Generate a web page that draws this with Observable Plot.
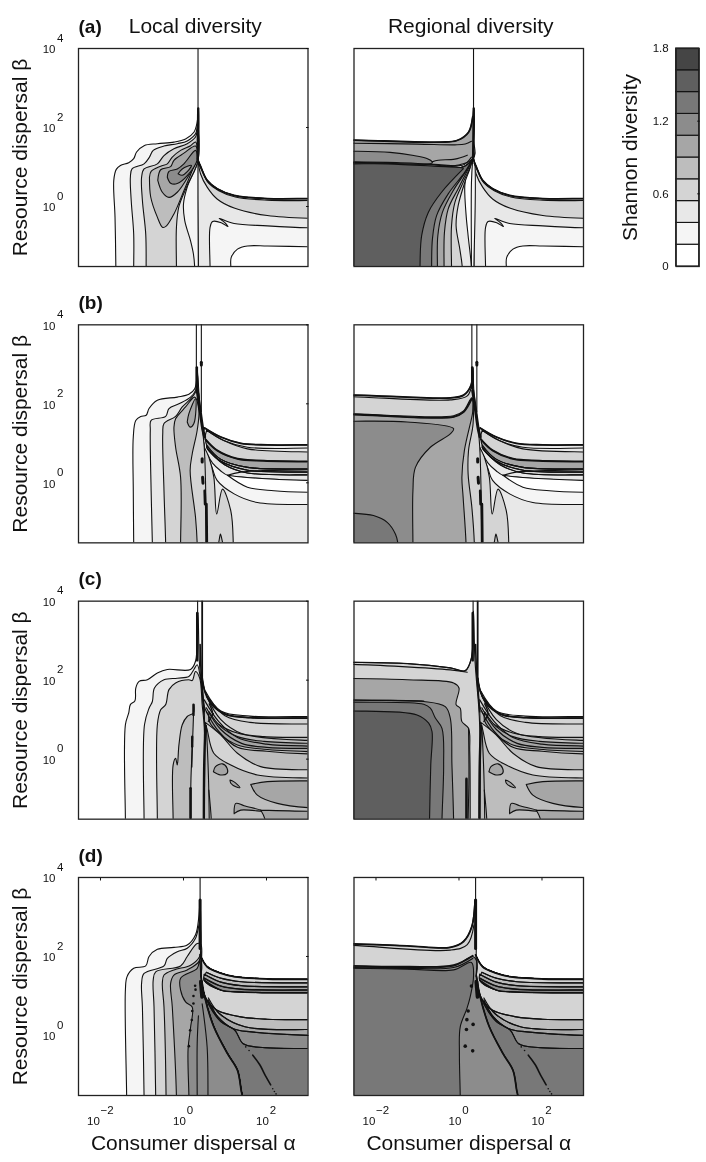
<!DOCTYPE html>
<html><head><meta charset="utf-8">
<script src="https://cdn.jsdelivr.net/npm/d3@7"></script>
<script src="https://cdn.jsdelivr.net/npm/@observablehq/plot@0.6"></script>
<style>html,body{margin:0;background:#fff}#page{position:relative;width:706px;height:1162px;overflow:hidden}
#page svg{position:absolute;background:transparent;will-change:transform}</style></head>
<body><div id="page"></div>
<script>
// All contour vertices are [log10 alpha, log10 beta]. Level = band index (0..9).
// Vertices beyond the frame (3.6, -3.1, -2.1) only close a filled band outside the clipped area.
const grays=["#ffffff","#f5f5f5","#e8e8e8","#d4d4d4","#bdbdbd","#a6a6a6","#8c8c8c","#787878","#5f5f5f","#454545"];
const bandEdges=[0,.18,.36,.54,.72,.9,1.08,1.26,1.44,1.62,1.8];
const xTicks=[.01,1,100], yTicks=[1,100,10000], barTicks=[0,.6,1.2,1.8];
const cols=["Local","Regional"], rows=["a","b","c","d"];

// ---- panel (a)
const aArm=[[.35,1.17],[.41,1.02],[.57,.66],[.81,.45],[1.22,.28],[2.02,.2],[3.6,.2]];
const aRight=[
 [2,[...aArm,[3.6,-2.1],[.36,-2.1],[.35,.2],[.35,1.17]]],
 [3,[...aArm,[3.6,-.3],[2.02,-.23],[1.22,-.04],[.81,.19],[.57,.49],[.41,.83],[.35,1.17]]],
 [1,[[.64,-2.1],[.64,-.53],[.7,-.38],[.91,-.41],[1.07,-.51],[.99,-.4],[.86,-.3],[1.22,-.43],[2.02,-.49],[3.6,-.54],[3.6,-2.1],[.64,-2.1]]],
 [0,[[1.14,-2.1],[1.15,-1.29],[1.3,-1.08],[1.54,-1],[2.02,-1],[3.6,-1.02],[3.6,-2.1],[1.14,-2.1]]]
];
const aLines=[
 [1.1,[[.35,4.1],[.35,2.4]]],
 [2.4,[[.355,2.48],[.35,2],[.34,1.2]]],
 [1.8,aArm],
 [1.1,[[.36,1.1],[.45,.9],[.6,.6],[.85,.4],[1.25,.24],[2.02,.16],[3.6,.15]]]
];
const aLocal=[
 [1,[[-1.63,-2.1],[-1.65,-.27],[-1.68,.66],[-1.62,.94],[-1.52,1.04],[-1.32,1.11],[-1.2,1.21],[-1.13,1.38],[-.95,1.54],[-.63,1.59],[-.23,1.63],[.05,1.71],[.25,1.88],[.33,2.14],[.36,2.48],[.37,2.14],[.36,1.17],[.36,-2.1],[-1.63,-2.1]]],
 ...aRight,
 [2,[[-1.2,-2.1],[-1.2,-.7],[-1.26,.15],[-1.28,.74],[-1.24,.95],[-.95,1.08],[-.82,1.25],[-.73,1.42],[-.47,1.53],[-.15,1.59],[.09,1.66],[.29,1.84],[.34,2.1],[.35,1.17],[.09,.49],[0,.07],[.03,-.36],[.17,-.87],[.24,-1.21],[.27,-2.1],[-1.2,-2.1]]],
 [3,[[-.9,-2.1],[-.91,-.7],[-.99,.15],[-1.01,.74],[-.95,.95],[-.63,1.08],[-.47,1.29],[-.23,1.46],[.09,1.59],[.29,1.76],[.34,1.97],[.35,1.17],[.09,.53],[-.11,0],[-.17,-.53],[-.17,-2.1],[-.9,-2.1]]],
 [4,[[-.82,.74],[-.78,.89],[-.55,1.02],[-.39,1.08],[-.27,1.25],[-.07,1.42],[.17,1.54],[.29,1.63],[.33,1.25],[.21,.91],[.01,.4],[-.23,-.19],[-.41,-.49],[-.5,-.53],[-.63,-.27],[-.79,.24],[-.82,.74]]],
 [5,[[-.62,.66],[-.55,.93],[-.31,1.01],[-.23,1.17],[.01,1.35],[.29,1.53],[.33,1.21],[.13,.79],[-.15,.36],[-.35,.23],[-.51,.36],[-.62,.66]]],
 [6,[[-.39,.74],[-.35,.89],[-.15,.95],[.01,1.08],[.29,1.42],[.33,1.19],[.09,.78],[-.15,.58],[-.31,.59],[-.39,.74]]],
 [5,[[-.13,.83],[-.03,.95],[.19,1.04],[.09,.88],[-.03,.79],[-.13,.83]]]
];
const aTop=[[-.6,1.05],[.1,1.0],[.33,1.2]];
const aFanClose=[[-3.1,-2.1],[-3.1,1.1],...aTop];
const aRegional=[
 [5,[[-3.1,1.68],[-.45,1.63],[-.05,1.67],[.23,1.88],[.33,2.27],[.355,2.48],[.37,2.27],[.36,1.67],[.33,1.2],[-3.1,.9],[-3.1,1.68]]],
 ...aRight,
 [2,[[.33,1.2],[.2,.9],[.14,.53],[.17,-.2],[.22,-.74],[.3,-2.1],...aFanClose]],
 [1,[[.33,1.2],[.3,.6],[.3,-2.1],[.36,-2.1],[.36,1.2],[.33,1.2]]],
 [3,[[.33,1.2],[.26,.95],[.14,.61],[-.02,.02],[-.07,-.49],[.02,-1.08],[.08,-2.1],...aFanClose]],
 [4,[[.33,1.2],[.25,.95],[.1,.61],[-.1,.1],[-.18,-.49],[-.18,-2.1],...aFanClose]],
 [5,[[.33,1.2],[.22,.95],[-.02,.45],[-.26,-.06],[-.35,-.65],[-.36,-2.1],...aFanClose]],
 [6,[[.33,1.2],[.18,.91],[-.14,.4],[-.4,-.15],[-.51,-.74],[-.52,-2.1],...aFanClose]],
 [7,[[.33,1.2],[.14,.87],[-.26,.32],[-.54,-.23],[-.64,-.82],[-.66,-2.1],...aFanClose]],
 [6,[[-3.1,1.4],[-1.66,1.37],[-1.09,1.29],[-.76,1.21],[-.65,1.14],[-.65,1.1],[-3.1,1.12],[-3.1,1.4]]],
 [8,[[.1,.95],[-.42,.36],[-.74,-.15],[-.9,-.74],[-.94,-2.1],[-3.1,-2.1],[-3.1,1.08],[-1.73,1.08],[-.61,1.02],[.1,.97],[.1,.95]]]
];
const aRegLines=[...aLines,
 [1.8,[[-3.1,1.68],[-.45,1.63],[-.05,1.67],[.23,1.88],[.33,2.27]]],
 [1.1,[[-3.1,1.6],[-1,1.58],[-.1,1.56],[.15,1.58],[.3,1.65]]],
 [1.1,[[-3.1,1.13],[-1.5,1.11],[-.6,1.07],[.1,1.05],[.3,1.25]]],
 [1.1,[[-.65,1.13],[-.5,1.17],[-.1,1.2],[.2,1.3]]]
];

// ---- panel (b)
const bArm=[[.51,1.39],[.9,1.16],[1.38,1],[2.02,.96],[3.6,.96]];
const bRight=[
 [2,[...bArm,[3.6,-2.1],[.4,-2.1],[.4,1],[.51,1.39]]],
 [3,[[.56,1.33],[.97,1.07],[1.54,.86],[3.6,.78],[3.6,.54],[1.94,.56],[1.3,.6],[.81,.82],[.53,1.1],[.56,1.33]]],
 [5,[[.53,1.1],[.81,.82],[1.3,.61],[1.94,.56],[3.6,.54],[3.6,.35],[1.54,.39],[.89,.6],[.56,.95],[.53,1.1]]],
 [4,[[.56,.95],[.89,.6],[1.54,.39],[3.6,.35],[3.6,.27],[1.54,.32],[.89,.55],[.56,.9],[.56,.95]]],
 [3,[[.56,.9],[.89,.55],[1.54,.32],[3.6,.27],[3.6,.2],[1.54,.25],[1,.45],[.58,.85],[.56,.9]]],
 [1,[[.58,.72],[.7,.35],[.81,.06],[1.22,-.28],[1.78,-.5],[3.6,-.55],[3.6,.05],[1.46,.14],[1.06,.19],[.9,.3],[.7,.5],[.58,.72]]],
 [0,[[1.06,.19],[1.46,.14],[3.6,.06],[3.6,-.24],[2.18,-.2],[1.54,-.11],[1.06,.19]]],
 [3,[[.5,.9],[.61,.65],[.73,.15],[.8,-.79],[.94,-.16],[1.14,-.71],[1.2,-2.1],[.4,-2.1],[.5,.9]]],
 [4,[[.83,-2.1],[.85,-1.5],[.89,-1.3],[.94,-1.5],[.96,-2.1],[.83,-2.1]]]
];
const bLines=[
 [1.1,[[.31,4.1],[.31,2.4]]],[1.1,[[.43,4.1],[.43,1.8]]],
 [2.6,[[.32,2.92],[.32,2.4]]],
 [1.1,[[.33,2.92],[.34,2.5],[.32,2.3]]],
 [3,[[.33,2.34],[.4,1.83],[.47,1.33],[.51,1.16]]],
 [3,[[.45,.61],[.45,.53]]],[3,[[.46,.14],[.47,-.01]]],[2.6,[[.51,-.2],[.52,-.54]]],[2.8,[[.55,-.54],[.56,-2.1]]],
 [3,[[.43,3.05],[.43,2.98]]],
 [1.8,bArm],
 [1.1,[[.56,1.33],[.97,1.07],[1.54,.9],[3.6,.88]]],
 [2,[[.53,1.1],[.81,.82],[1.3,.61],[1.94,.56],[3.6,.54]]],
 [1.1,[[.56,.95],[.89,.6],[1.54,.39],[3.6,.35]]],
 [1.1,[[.58,.85],[1,.45],[1.54,.25],[3.6,.2]]],
 [1.1,[[.56,.9],[.89,.55],[1.54,.32],[3.6,.27]]],
 [1.1,[[1.06,.19],[1.38,.27],[3.6,.33]]]
];
const bLocal=[
 ...bRight,
 [1,[[-1.2,-2.1],[-1.21,-.2],[-1.21,1.16],[-1.15,1.58],[-1.03,1.68],[-.9,1.71],[-.83,1.88],[-.63,2.09],[-.15,2.17],[.13,2.24],[.27,2.38],[.33,2.77],[.33,2.92],[.37,2.3],[.42,1.5],[.45,1.2],[.5,.9],[.45,-2.1],[-1.2,-2.1]]],
 [2,[[-.75,-2.1],[-.78,-.2],[-.8,1.33],[-.78,1.58],[-.43,1.68],[-.35,1.88],[-.11,2],[.17,2.17],[.29,2.34],[.33,2.8],[.36,2.3],[.45,1.2],[.5,.9],[.45,-2.1],[-.75,-2.1]]],
 [3,[[-.43,-2.1],[-.47,-.2],[-.5,1.24],[-.47,1.5],[-.19,1.68],[-.03,1.92],[.21,2.17],[.31,2.34],[.33,2.6],[.4,1.8],[.5,.9],[.55,-2.1],[-.43,-2.1]]],
 [4,[[-.07,-2.1],[-.07,.14],[-.19,.9],[-.23,1.41],[-.19,1.62],[.05,1.92],[.27,2.17],[.37,1.83],[.33,1.33],[.21,.73],[.16,.31],[.29,-.88],[.33,-2.1],[-.07,-2.1]]],
 [5,[[.09,1.54],[.13,1.75],[.29,2.13],[.25,1.5],[.16,1.41],[.09,1.54]]]
];
const bRegional=[
 ...bRight,
 [3,[[-3.1,2.22],[-1.25,2.17],[-.21,2.15],[.11,2.22],[.29,2.47],[.33,2.89],[.36,2.3],[.45,1.5],[.5,.9],[.55,-2.1],[-3.1,-2.1],[-3.1,2.22]]],
 [4,[[-3.1,1.75],[-.13,1.7],[.11,1.82],[.31,2.15],[.34,1.5],[.23,.82],[.22,.22],[.31,-.62],[.37,-2.1],[-3.1,-2.1],[-3.1,1.75]]],
 [5,[[-3.1,1.73],[-.13,1.67],[.11,1.79],[.31,2.13],[.33,1.8],[.31,1.67],[.13,.82],[.07,.14],[.1,-.37],[.17,-2.1],[-3.1,-2.1],[-3.1,1.73]]],
 [6,[[-3.1,1.56],[-1.25,1.54],[-.13,1.37],[-.21,1.24],[-.69,.9],[-1.05,.39],[-1.11,-.2],[-1.11,-2.1],[-3.1,-2.1],[-3.1,1.56]]],
 [7,[[-3.1,-.77],[-2.06,-.83],[-1.73,-1],[-1.53,-1.3],[-1.47,-2.1],[-3.1,-2.1],[-3.1,-.77]]]
];
const bRegLines=[...bLines,
 [1.8,[[-3.1,2.22],[-1.25,2.17],[-.21,2.15],[.11,2.22],[.29,2.47],[.33,2.89]]],
 [1.1,[[-3.1,2.18],[-.21,2.1],[.2,2.2],[.31,2.5]]],
 [1.8,[[-3.1,1.73],[-.13,1.67],[.11,1.79],[.31,2.13]]]
];

// ---- panel (c)
const cArm=[[.45,2.05],[.53,1.67],[.73,1.33],[1.05,1.12],[1.62,1.05],[3.6,1.04]];
const cRight=[
 [4,[...cArm,[3.6,-2.1],[.5,-2.1],[.5,1.2],[.45,2.05]]],
 [3,[...cArm,[3.6,.55],[1.94,.57],[1.3,.66],[.81,.91],[.53,1.25],[.45,2.05]]],
 [5,[[.62,1.2],[.89,.83],[1.3,.57],[1.94,.45],[3.6,.4],[3.6,.19],[1.94,.25],[1.3,.36],[.89,.62],[.62,.96],[.62,1.2]]],
 [3,[[.5,.95],[.89,.62],[1.3,.15],[1.86,-.19],[3.6,-.27],[3.6,-.48],[1.78,-.4],[1.14,-.15],[.73,.15],[.56,.79],[.5,.95]]],
 [5,[[.72,-.32],[.77,-.19],[.94,-.12],[1.05,-.23],[1.05,-.36],[.89,-.4],[.72,-.32]]],
 [5,[[1.12,-.53],[1.21,-.57],[1.36,-.72],[1.26,-.7],[1.14,-.61],[1.12,-.53]]],
 [5,[[1.62,-.64],[2.02,-.57],[3.6,-.55],[3.6,-1.23],[2.26,-1.12],[1.78,-.91],[1.62,-.64]]],
 [5,[[1.22,-1.38],[1.26,-1.12],[1.46,-1.18],[1.94,-1.32],[1.38,-1.29],[1.22,-1.38]]],
 [5,[[1.86,-1.29],[3.6,-1.32],[3.6,-2.1],[1.97,-2.1],[1.86,-1.29]]]
];
const cLines=[
 [1.1,[[.34,4.1],[.34,3.5]]],[1.8,[[.45,4.1],[.45,2]]],
 [2.4,[[.33,3.7],[.33,2.5]]],
 [1.6,[[.4,2.9],[.42,2.3],[.47,1.6],[.5,1.2]]],
 [1.8,cArm],
 [1.1,[[.53,1.72],[.9,1.22],[1.6,1.09],[3.6,1.08]]],
 [1.1,[[.6,1.55],[1,1.1],[1.6,.93],[3.6,.89]]],
 [1.2,[[.55,1.6],[.9,1],[1.4,.65],[3.6,.47]]],
 [1.2,[[.5,1.5],[.85,.95],[1.3,.55],[2,.38],[3.6,.33]]],
 [1.2,[[.55,1.3],[.9,.75],[1.4,.4],[2,.3],[3.6,.27]]],
 [1.2,[[.55,1.2],[.85,.7],[1.3,.3],[2,.2],[3.6,.13]]],
 [1.4,[[.62,1.4],[.7,1.15],[.6,.95],[.72,1.15]]],
 [2.4,[[.53,.85],[.5,-.1],[.49,-2.1]]],
 [1.1,[[.61,-.78],[.67,-2.1]]],
 [1.1,[[.55,.85],[.6,-.4],[.62,-2.1]]]
];
const cLocal=[
 ...cRight,
 [1,[[-1.4,-2.1],[-1.4,.87],[-1.32,1.17],[-1.28,1.38],[-1.17,1.48],[-1.15,1.8],[-1.07,1.97],[-.87,2.01],[-.63,2.18],[-.39,2.27],[.17,2.27],[.29,2.48],[.33,3.24],[.35,3.71],[.38,2.5],[.42,2],[.47,1.4],[.5,.8],[.5,-2.1],[-1.4,-2.1]]],
 [2,[[-.95,-2.1],[-.94,.87],[-.83,1.29],[-.75,1.46],[-.7,1.8],[-.47,2.01],[-.15,2.05],[.13,2.09],[.25,2.27],[.33,2.39],[.4,2.1],[.47,1.4],[.5,.8],[.5,-2.1],[-.95,-2.1]]],
 [3,[[-.63,-2.1],[-.63,.87],[-.55,1.25],[-.43,1.38],[-.35,1.76],[-.19,1.93],[.13,2.01],[.21,1.99],[.29,2.22],[.39,2.05],[.45,1.38],[.5,.8],[.5,-2.1],[-.63,-2.1]]],
 [4,[[-.25,-2.1],[-.25,-.15],[-.19,.02],[-.15,-.15],[-.11,.36],[-.03,.87],[.09,1.08],[.24,1.17],[.25,1.38],[.22,.5],[.18,-.5],[.17,-2.1],[-.25,-2.1]]]
];
const cLocLines=[...cLines,
 [2.4,[[.24,1.38],[.24,1.12]]],[2.4,[[.21,.57],[.21,.32]]],[1.3,[[.21,.32],[.2,-.2]]],[2.6,[[.17,-.74],[.17,-2.1]]]
];
const cRegional=[
 ...cRight,
 [3,[[-3.1,2.45],[-1.25,2.42],[-.21,2.31],[.15,2.24],[.3,2.56],[.35,3.75],[.38,2.6],[.42,2],[.47,1.4],[.5,.8],[.5,-2.1],[-3.1,-2.1],[-3.1,2.45]]],
 [5,[[-3.1,2.04],[-1.25,2.01],[-.13,1.93],[0,1.8],[-.07,1.38],[.03,1.29],[.07,.95],[.23,.78],[.26,.19],[.27,-2.1],[-3.1,-2.1],[-3.1,2.04]]],
 [6,[[-3.1,1.48],[-.85,1.46],[-.33,1.33],[-.21,1.04],[-.17,-.15],[-.13,-2.1],[-3.1,-2.1],[-3.1,1.48]]],
 [7,[[-3.1,1.44],[-.85,1.39],[-.69,1.29],[-.57,1.04],[-.41,.78],[-.37,-.15],[-.41,-2.1],[-3.1,-2.1],[-3.1,1.44]]],
 [8,[[-3.1,1.22],[-1.01,1.12],[-.73,.91],[-.65,.7],[-.68,-.15],[-.71,-2.1],[-3.1,-2.1],[-3.1,1.22]]]
];
const cRegLines=[...cLines,
 [1.3,[[-3.1,2.45],[-1.25,2.42],[-.21,2.31],[.15,2.24],[.3,2.56],[.33,3.2]]],
 [1.1,[[-3.1,2.4],[-.21,2.26],[.2,2.2]]],
 [1.3,[[-3.1,1.5],[-.85,1.47]]],
 [2.6,[[.18,-.5],[.18,-2.1]]],[1.1,[[.23,.78],[.24,-.5],[.22,-2.1]]]
];

// ---- panel (d)
const dArm=[[.4,2.04],[.57,1.74],[.89,1.58],[1.22,1.49],[2.02,1.43],[3.6,1.42]];
const dBound=[[.42,1.5],[.51,.98],[.73,.22],[1.06,-.46],[1.3,-.88],[1.39,-1.39],[1.42,-2.1]];
const dRight=[
 [7,[...dArm,[3.6,-2.1],[.42,-2.1],[.42,1.5],[.4,2.04]]],
 [6,[...dArm,[3.6,-.33],[1.96,-.31],[1.44,-.21],[1.24,.13],[.9,.35],[.6,.8],[.47,1.23],[.4,2.04]]],
 [5,[...dArm,[3.6,0],[1.64,.09],[1.2,.17],[.83,.47],[.6,.9],[.47,1.23],[.4,2.04]]],
 [4,[...dArm,[3.6,.15],[1.48,.22],[.87,.55],[.6,.95],[.47,1.23],[.4,2.04]]],
 [3,[...dArm,[3.6,.4],[2.02,.41],[1.38,.47],[.81,.64],[.57,.89],[.45,1.23],[.4,2.04]]],
 [4,[[.55,1.6],[.9,1.45],[1.4,1.36],[3.6,1.33],[3.6,1.08],[1.4,1.1],[.9,1.15],[.5,1.4],[.55,1.6]]],
 [5,[[.5,1.55],[.9,1.35],[1.4,1.26],[3.6,1.23],[3.6,1.08],[1.4,1.1],[.9,1.15],[.5,1.4],[.5,1.55]]],
 [6,[[.5,1.45],[.9,1.25],[1.4,1.17],[3.6,1.15],[3.6,1.08],[1.4,1.1],[.9,1.15],[.5,1.4],[.5,1.45]]]
];
const dLines=[
 [1.1,[[.4,4.1],[.4,3.3]]],
 [3,[[.4,3.43],[.4,2.2]]],
 [1.8,dArm],
 [1.2,[[.55,1.6],[.9,1.45],[1.4,1.36],[3.6,1.33]]],
 [1.2,[[.5,1.55],[.9,1.35],[1.4,1.26],[3.6,1.23]]],
 [1.4,[[.5,1.45],[.9,1.25],[1.4,1.17],[3.6,1.15]]],
 [1.4,[[.5,1.4],[.9,1.15],[1.4,1.1],[3.6,1.08]]],
 [1.2,[[.45,1.23],[.57,.89],[.81,.64],[1.38,.47],[2.02,.41],[3.6,.4]]],
 [1.2,[[.6,.95],[.87,.55],[1.48,.22],[3.6,.15]]],
 [1.2,[[.6,.9],[.83,.47],[1.2,.17],[1.64,.09],[3.6,0]]],
 [1.2,[[.6,.8],[.9,.35],[1.24,.13],[1.44,-.21],[1.96,-.31],[3.6,-.33]]],
 [1.8,dBound],
 [1.2,[[.43,1.9],[.44,1.7],[.41,1.5]]],
 [4,[[.42,1.36],[.45,.98]]],
 [1.6,[[1.67,-.5],[1.83,-.73],[1.99,-1.05],[2.1,-1.25]]]
];
const dDotAlpha=[1.5,1.58,2.15,2.19,2.23];
const dDotBeta=[-.29,-.38,-1.35,-1.42,-1.48];
const dLocalBlobs=[[.28,1.26],[.29,1.16],[.24,1],[.24,.81],[.21,.62],[.2,.39],[.16,.13],[.13,-.27]];
const dRegBlobs=[[.22,.62],[.19,.4],[.18,.15],[.15,-.27],[.34,.28],[.33,-.39],[.3,1.25]];
const dBoundClose=[[.42,2.2],...dBound];
const dLocal=[
 ...dRight,
 [1,[[-1.37,-2.1],[-1.4,1.15],[-1.36,1.49],[-1.2,1.7],[-.91,1.76],[-.83,2],[-.63,2.18],[-.23,2.23],[.09,2.29],[.29,2.55],[.37,3.01],[.4,3.43],[.42,2.6],...dBound,[-1.37,-2.1]]],
 [2,[[-.95,-2.1],[-.99,.72],[-1.01,1.32],[-.95,1.57],[-.47,1.76],[-.39,1.95],[-.15,2.12],[.09,2.21],[.29,2.46],[.39,2.84],[.42,2.4],...dBound,[-.95,-2.1]]],
 [3,[[-.67,-2.1],[-.71,.72],[-.73,1.4],[-.67,1.61],[-.07,1.76],[.09,2],[.33,2.33],[.42,2.3],...dBound,[-.67,-2.1]]],
 [4,[[-.42,-2.1],[-.47,.72],[-.51,1.32],[-.47,1.53],[-.23,1.66],[.17,1.78],[.39,2],...dBoundClose,[-.42,-2.1]]],
 [5,[[-.17,-2.1],[-.27,.72],[-.31,1.32],[-.23,1.53],[.09,1.66],[.37,1.87],...dBoundClose,[-.17,-2.1]]],
 [6,[[.13,-2.1],[.11,-.35],[.17,.2],[.21,.72],[.05,.85],[-.07,1.15],[-.07,1.45],[.33,1.7],[.39,1.9],...dBound,[.13,-2.1]]]
];
const dLocLines=[...dLines,
 [1.1,[[.33,-2.1],[.33,-.2],[.36,.5]]],
 [1.1,[[.59,-2.1],[.57,-.3],[.45,.8]]]
];
const dRegional=[
 ...dRight,
 [3,[[-3.1,2.32],[-1.25,2.27],[-.21,2.23],[.11,2.38],[.31,2.76],[.39,3.43],[.42,2.5],...dBound,[-3.1,-2.1],[-3.1,2.32]]],
 [6,[[-3.1,1.74],[-1.25,1.72],[-.13,1.76],[.33,2],[.42,1.9],...dBound,[-3.1,-2.1],[-3.1,1.74]]],
 [7,[[-3.1,1.7],[-1.25,1.68],[-.13,1.66],[.3,1.85],[.35,1.49],[.27,.98],[.19,.68],[.03,.22],[.01,-.46],[.03,-2.1],[-3.1,-2.1],[-3.1,1.7]]]
];
const dRegLines=[...dLines,
 [1.8,[[-3.1,2.32],[-1.25,2.27],[-.21,2.23],[.11,2.38],[.31,2.76],[.39,3.43]]],
 [1.1,[[-3.1,2.28],[-.21,2.16],[.2,2.3],[.36,2.8]]],
 [1.8,[[-3.1,1.76],[-1.25,1.74],[-.13,1.78],[.33,2.02]]],
 [1.2,[[-3.1,1.72],[-1.25,1.7],[-.13,1.72],[.33,1.95]]]
];

const panels=[
 ["Local","a",aLocal,aLines,[]],["Regional","a",aRegional,aRegLines,[]],
 ["Local","b",bLocal,bLines,[]],["Regional","b",bRegional,bRegLines,[]],
 ["Local","c",cLocal,cLocLines,[]],["Regional","c",cRegional,cRegLines,[]],
 ["Local","d",dLocal,dLocLines,dLocalBlobs],["Regional","d",dRegional,dRegLines,dRegBlobs]
];
// A contour leaves the frame straight: keep its level just outside the edge so that smoothing
// towards an off-frame closing vertex never bends it inside the frame.
const outside=([x,y])=>x>3.05||x<-2.56||y<-1.55;
function leaveStraight(pts){
 const out=[];
 pts.forEach((p,i)=>{
  const prev=pts[i-1];
  if(prev&&outside(p)!==outside(prev)){
   const [o,q]=outside(p)?[p,prev]:[prev,p];
   const edge=o[0]>3.05?[3.05,o[1]]:o[0]<-2.56?[-2.56,o[1]]:[o[0],-1.55];
   if(!outside(q)&&Math.hypot(edge[0]-q[0],edge[1]-q[1])>.02)out.push(edge);
  }
  out.push(p);
 });
 return out;
}
const fills=[],strokes=[],localDots=[],regionalDots=[],fineDots=[];
let uid=0;
for(const [col,row,regions,lines,blobs] of panels){
 for(const [level,pts] of regions){const id=uid++;for(const [x,y] of leaveStraight(pts))fills.push({col,row,id,level,a:10**x,b:10**y});}
 for(const [sw,pts] of lines){const id=uid++;for(const [x,y] of leaveStraight(pts))strokes.push({col,row,id,sw,a:10**x,b:10**y});}
 for(const [x,y] of blobs)(col==="Local"?localDots:regionalDots).push({col,row,a:10**x,b:10**y});
 if(row==="d")dDotAlpha.forEach((x,i)=>fineDots.push({col,row,a:10**x,b:10**dDotBeta[i]}));
}
const colorScale={type:"ordinal",domain:d3.range(10),range:grays};
const exp=d=>String(Math.round(Math.log10(d))).replace("-","\u2212");
const font='"Liberation Sans",Arial,sans-serif';
const ink="#111";

const main=Plot.plot({
 width:706,height:1162,marginLeft:78,marginRight:123,marginTop:48,marginBottom:67,
 style:{fontFamily:font,fontSize:"11.5px",background:"transparent",color:ink},
 fx:{domain:cols,axis:null,paddingInner:46/275.5,paddingOuter:0,round:false},
 fy:{domain:rows,axis:null,paddingInner:58.3/276.3,paddingOuter:0,round:false},
 x:{type:"log",domain:[10**-2.53,1000],axis:null},
 y:{type:"log",domain:[10**-1.52,10000],axis:null},
 color:colorScale,
 marks:[
  Plot.line(fills,{x:"a",y:"b",z:"id",fx:"col",fy:"row",fill:"level",stroke:ink,strokeWidth:1.1,curve:"catmull-rom",clip:"frame"}),
  Plot.line(strokes,{x:"a",y:"b",z:"id",fx:"col",fy:"row",stroke:ink,strokeWidth:"sw",curve:"catmull-rom",clip:"frame"}),
  Plot.dot(localDots,{x:"a",y:"b",fx:"col",fy:"row",r:1.3,fill:ink,stroke:null}),
  Plot.dot(regionalDots,{x:"a",y:"b",fx:"col",fy:"row",r:1.8,fill:ink,stroke:null}),
  Plot.dot(fineDots,{x:"a",y:"b",fx:"col",fy:"row",r:.8,fill:ink,stroke:null}),
  Plot.frame({stroke:"#222",strokeWidth:1.3}),
  Plot.axisY(yTicks,{anchor:"right",facetAnchor:"left",tickSize:-2.5,fill:"none",label:null,stroke:ink}),
  Plot.axisX(xTicks,{anchor:"top",facetAnchor:"bottom",tickSize:-2.5,fill:"none",label:null,stroke:ink}),
  Plot.axisY(yTicks,{anchor:"left",tickSize:0,tickPadding:23,tickFormat:()=>"10",dy:1,label:null}),
  Plot.axisY(yTicks,{anchor:"left",tickSize:0,tickPadding:15,tickFormat:exp,dy:-10.5,label:null}),
  Plot.axisX([.01],{anchor:"bottom",tickSize:0,tickPadding:21,tickFormat:()=>"10",dx:-7,label:null}),
  Plot.axisX([1,100],{anchor:"bottom",tickSize:0,tickPadding:21,tickFormat:()=>"10",dx:-4,label:null}),
  Plot.axisX(xTicks,{anchor:"bottom",tickSize:0,tickPadding:10.5,tickFormat:exp,dx:6.5,label:null}),
  Plot.text(rows.map(row=>({row,col:"Local",t:`(${row})`})),{fx:"col",fy:"row",text:"t",frameAnchor:"top-left",lineAnchor:"middle",textAnchor:"start",dy:-22,fontSize:19,fontWeight:"bold",fill:ink}),
  Plot.text([{col:"Local",row:"a",t:"Local diversity"},{col:"Regional",row:"a",t:"Regional diversity"}],{fx:"col",fy:"row",text:"t",frameAnchor:"top",lineAnchor:"middle",dy:-22,dx:2,fontSize:21,fill:ink}),
  Plot.text(rows.map(row=>({row,col:"Local"})),{fx:"col",fy:"row",text:()=>"Resource dispersal \u03b2",frameAnchor:"left",textAnchor:"middle",lineAnchor:"middle",rotate:-90,dx:-58,fontSize:21,fill:ink}),
  Plot.text(cols.map(col=>({col,row:"d"})),{fx:"col",fy:"row",text:()=>"Consumer dispersal \u03b1",frameAnchor:"bottom",lineAnchor:"middle",dy:48,fontSize:21,fill:ink})
 ]
});
main.style.left="0";main.style.top="0";

const bands=grays.map((g,i)=>({level:i,lo:bandEdges[i],hi:bandEdges[i+1]}));
const bar=Plot.plot({
 width:106,height:300,marginLeft:75.7,marginRight:7.3,marginTop:48,marginBottom:34,
 style:{fontFamily:font,fontSize:"11.5px",background:"transparent",color:ink},
 x:{domain:[0,1],axis:null},y:{domain:[0,1.8],axis:null},color:colorScale,
 marks:[
  Plot.rect(bands,{x1:()=>0,x2:()=>1,y1:"lo",y2:"hi",fill:"level",stroke:ink,strokeWidth:1.1}),
  Plot.frame({stroke:"#222",strokeWidth:1.3}),
  Plot.axisY([.6,1.2],{anchor:"right",tickSize:-2.5,fill:"none",label:null,stroke:ink}),
  Plot.axisY(barTicks,{anchor:"left",tickSize:0,tickPadding:7.5,tickFormat:d=>d===0?"0":d.toFixed(1),label:null}),
  Plot.text(["Shannon diversity"],{frameAnchor:"left",textAnchor:"middle",lineAnchor:"middle",rotate:-90,dx:-45.7,fontSize:21,fill:ink})
 ]
});
bar.style.left="600px";bar.style.top="0";
document.getElementById("page").append(main,bar);
</script></body></html>
